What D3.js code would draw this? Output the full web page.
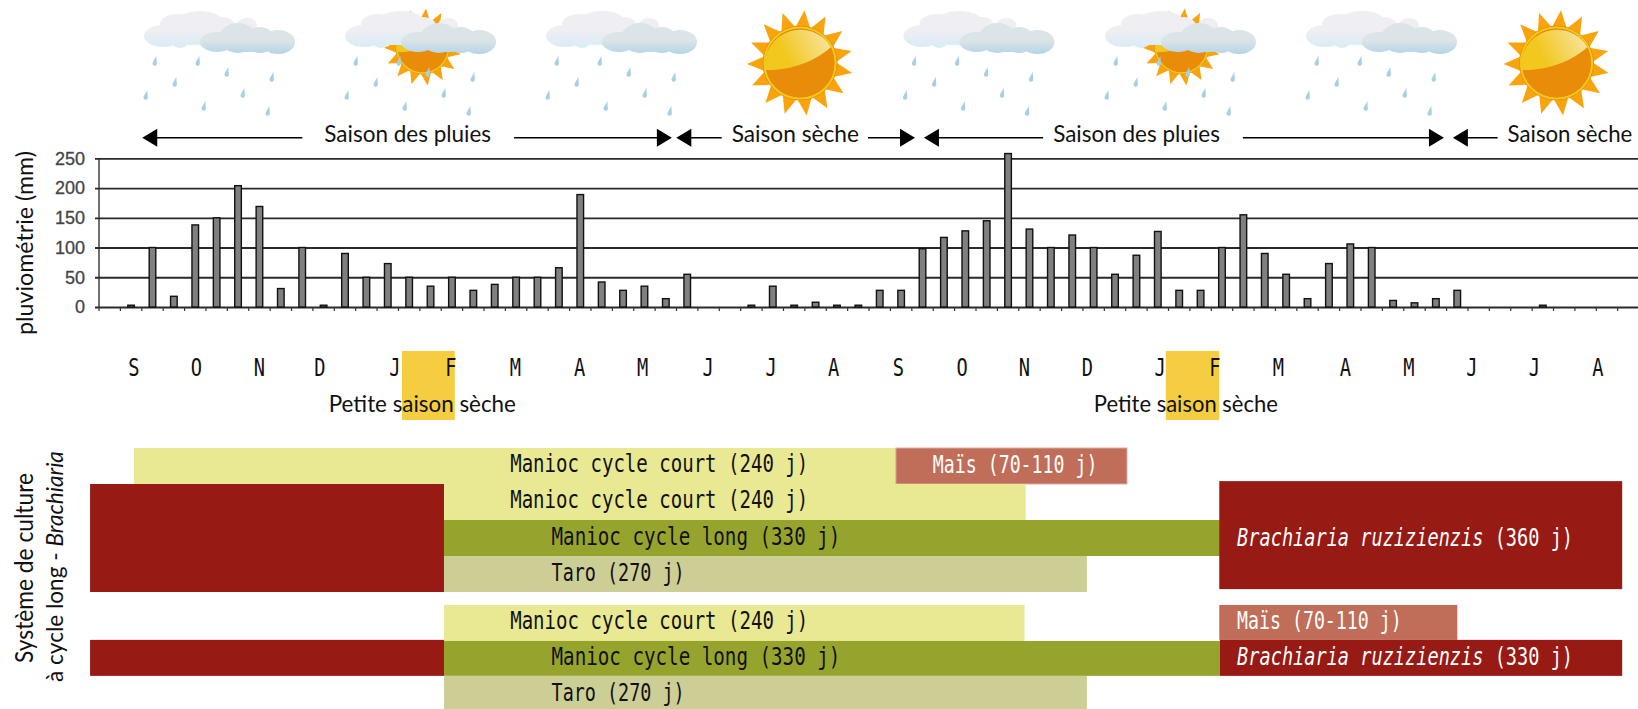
<!DOCTYPE html>
<html>
<head>
<meta charset="utf-8">
<script src="https://cdn.jsdelivr.net/npm/d3@7"></script>
<style>
    html, body { margin: 0; padding: 0; background: #fff; overflow: hidden; }
    svg { display: block; }
    .prop { font-family: Lato, "Open Sans", sans-serif; fill: #111; }
    .mono { font-family: "DejaVu Sans Mono", monospace; font-size: 24px; }
</style>
</head>
<body>
<div id="chart"></div>
<script>
// rainfall per 10-day period (mm)
const rain = [0, 3, 100, 18, 138, 150, 204, 169, 31, 100, 3, 90, 50, 73, 50, 35, 50, 28, 38, 50, 50, 66, 189, 42, 28, 35, 14, 55,
    0, 0, 3, 35, 3, 8, 3, 3, 28, 28, 98, 117, 128, 145, 258, 131, 100, 121, 100, 55, 87, 127, 28, 28, 100, 155, 90, 55, 14, 73, 106, 100, 11, 7, 14, 28,
    0, 0, 0, 3, 0, 0, 0, 0];
const yTicks = [0, 50, 100, 150, 200, 250];

const monthLabels = ["S", "O", "N", "D", "J", "F", "M", "A", "M", "J", "J", "A", "S", "O", "N", "D", "J", "F", "M", "A", "M", "J", "J", "A"];
const monthAt = [0, 0.98, 1.97, 2.92, 4.1, 4.98, 5.99, 7, 7.99, 9.02, 10.01, 10.99, 12.01, 13.01, 13.99, 14.98, 16.12, 16.98, 17.98, 19.03, 20.03, 21.02, 22, 23];

// seasons, in months from the first S
const seasonLabels = ["Saison des pluies", "Saison sèche", "Saison des pluies", "Saison sèche"];
const seasonStart = [0.13, 8.52, 12.41, 20.72];
const seasonEnd = [8.45, 12.27, 20.58, null];
const seasonLabelStart = [2.99, 9.39, 14.44, 21.58];
const seasonLabelEnd = [5.61, 11.39, 17.06, 23.54];

const dryStart = [4.21, 16.21];
const dryEnd = [5.04, 17.05];
const dryLabelAt = [3.06, 15.08];
const dryLabelEnd = [6.0, 17.97];

// crop blocks: months for x, row numbers for y
const blockKinds = ["court", "mais", "bra", "court", "long", "taro", "bra", "court", "mais", "bra", "long", "bra", "taro"];
const blockStart = [0, 11.97, -0.69, 4.87, 4.87, 4.87, 17.05, 4.87, 17.05, -0.69, 4.87, 17.06, 4.87];
const blockEnd = [11.97, 15.6, 4.87, 14.01, 17.06, 14.97, 23.38, 13.99, 20.79, 4.87, 17.06, 23.38, 14.97];
const blockTop = [0, 0, 1, 1, 2, 3, 0.92, 4.36, 4.36, 5.33, 5.36, 5.33, 6.33];
const blockBottom = [1, 1, 4, 2, 3, 4, 3.92, 5.36, 5.33, 6.33, 6.33, 6.33, 7.25];

const labelText = ["Manioc cycle court (240 j)", "Maïs (70-110 j)", "Manioc cycle court (240 j)", "Manioc cycle long (330 j)", "Taro (270 j)",
    "(360 j)", "Manioc cycle court (240 j)", "Maïs (70-110 j)", "Manioc cycle long (330 j)", "(330 j)", "Taro (270 j)"];
const labelItalic = ["", "", "", "", "", "Brachiaria ruzizienzis ", "", "", "", "Brachiaria ruzizienzis ", ""];
const labelAt = [5.91, 12.55, 5.91, 6.56, 6.56, 17.33, 5.91, 17.33, 6.56, 17.33, 6.56];
const labelRow = [0.66, 0.69, 1.66, 2.69, 3.69, 2.72, 5.03, 5.03, 6.03, 6.03, 7.02];
const labelKinds = ["court", "mais", "court", "long", "taro", "bra", "court", "mais", "long", "bra", "taro"];

const kindColor = { court: "#e8e992", long: "#96a42e", taro: "#ccce96", bra: "#971a14", mais: "#c06e59" };
// horizontal squeeze of the mono font, it is too wide otherwise
const kindSqueeze = { court: 0.794, long: 0.8, taro: 0.768, bra: 0.775, mais: 0.76 };

const width = 1638, height = 709;

const svg = d3.select("#chart").append("svg")
    .attr("width", width)
    .attr("height", height);

// scales
const xMonth = d3.scaleLinear().domain([0, 23]).range([134, 1598]);
const yRow = d3.scaleLinear().domain([0, 1]).range([448, 484]);
const xBar = d3.scaleBand().domain(rain.map((d, i) => i)).range([99, 99 + 21.39 * rain.length]);
const yRain = d3.scaleLinear().domain([0, 250]).range([307, 158.3]);

// ---- weather icons ----
const defs = svg.append("defs");
function gradient(id, top, bottom, y1, y2) {
    const g = defs.append("linearGradient").attr("id", id)
        .attr("gradientUnits", "userSpaceOnUse")
        .attr("x1", 0).attr("y1", y1).attr("x2", 0).attr("y2", y2);
    g.append("stop").attr("offset", "55%").attr("stop-color", top);
    g.append("stop").attr("offset", "100%").attr("stop-color", bottom);
}
gradient("cloudBack", "#efeef3", "#d9ecf5", 11, 47);
gradient("cloudFront", "#dbe4e7", "#b3d4e8", 25, 54);
const disc = defs.append("linearGradient").attr("id", "sunShine").attr("x1", 0).attr("y1", 0.5).attr("x2", 1).attr("y2", 0.2);
disc.append("stop").attr("offset", "25%").attr("stop-color", "#f2c81e");
disc.append("stop").attr("offset", "100%").attr("stop-color", "#f8e4a4");

function drawSun(cx, cy, k) {
    const g = svg.append("g").attr("transform", `translate(${cx},${cy}) scale(${k})`);
    const n = 15;
    const pts = d3.range(n * 2).map(i => {
        const a = (i + 0.4) * Math.PI / n;
        const r = i % 2 === 0 ? 53 : 36;
        return [r * Math.sin(a), -r * Math.cos(a)];
    });
    g.append("polygon").attr("points", pts.join(" ")).attr("fill", "#f9a30e");
    g.append("circle").attr("r", 37).attr("fill", "#f2c81e").attr("stroke", "#e8920a").attr("stroke-width", 1);
    g.append("circle").attr("r", 35).attr("fill", "#e88c0a");
    g.append("path")
        .attr("d", "M-35,7 A35.7,35.7 0 0 1 31,-16 C16,-2 -10,8 -35,7 Z")
        .attr("fill", "url(#sunShine)");
    g.append("circle").attr("r", 35.5).attr("fill", "none").attr("stroke", "#f2c81e").attr("stroke-width", 1.6);
}

const backCloud = [[63, 36, 19, 11], [77, 24, 17, 10], [100, 22, 23, 11], [123, 26, 12, 9], [147, 25, 10, 7], [80, 42, 8, 6], [110, 36, 25, 10], [92, 35, 42, 10], [135, 32, 22, 8]];
const frontCloud = [[117, 42, 17, 10], [138, 38, 19, 15], [160, 40, 15, 13], [178, 42, 17, 12], [148, 43, 30, 9]];
const drops = [[55, 62], [98, 62], [127, 73], [172, 78], [75, 83], [46, 96], [143, 94], [104, 107], [168, 112]];

function drawCloud(dx) {
    const g = svg.append("g").attr("transform", `translate(${dx},0)`);
    g.append("g").selectAll("path").data(drops).join("path")
        .attr("d", "M0,-6.5 C0.8,-2.5 2.3,0 2.2,2 A2.3,2.6 0 0 1 -2.2,2 C-2.3,0 -0.8,-2.5 0,-6.5 Z")
        .attr("transform", d => `translate(${d[0] + 100},${d[1]}) rotate(12)`)
        .attr("fill", "#a7d0e5");
    // the cloud shapes are unions of ellipses, gradient in user space so it runs over the whole cloud
    g.append("g").selectAll("ellipse").data(backCloud).join("ellipse")
        .attr("cx", d => d[0] + 100).attr("cy", d => d[1]).attr("rx", d => d[2]).attr("ry", d => d[3])
        .attr("fill", "url(#cloudBack)");
    g.append("g").selectAll("ellipse").data(frontCloud).join("ellipse")
        .attr("cx", d => d[0] + 100).attr("cy", d => d[1]).attr("rx", d => d[2]).attr("ry", d => d[3])
        .attr("fill", "url(#cloudFront)");
}

drawSun(422.7, 47, 0.73);
drawSun(1181.5, 47, 0.73);
drawSun(800, 63, 1);
drawSun(1556.5, 63, 1);
[0, 201, 402, 759.4, 961, 1162].forEach(drawCloud);

// ---- season arrows ----
const arrowY = 137.7;
function arrowHead(x, dir) {
    svg.append("polygon")
        .attr("points", [[x, arrowY], [x + dir * 15, arrowY - 9], [x + dir * 15, arrowY + 9]].join(" "))
        .attr("fill", "#000");
}
seasonLabels.forEach((s, i) => {
    const x0 = xMonth(seasonStart[i]);
    const labelX0 = xMonth(seasonLabelStart[i]);
    const labelX1 = xMonth(seasonLabelEnd[i]);
    const gap = i === 0 ? 22 : 10;
    svg.append("line").attr("x1", x0 + 10).attr("x2", labelX0 - gap)
        .attr("y1", arrowY).attr("y2", arrowY).attr("stroke", "#000").attr("stroke-width", 1.6);
    arrowHead(x0, 1);
    if (seasonEnd[i] !== null) {
        const x1 = xMonth(seasonEnd[i]);
        svg.append("line").attr("x1", labelX1 + (i === 1 ? 9 : 23)).attr("x2", x1 - 10)
            .attr("y1", arrowY).attr("y2", arrowY).attr("stroke", "#000").attr("stroke-width", 1.6);
        arrowHead(x1, -1);
    }
    const label = svg.append("text").attr("class", "prop")
        .attr("font-size", 24)
        .text(s);
    // squeeze to the measured width
    const k = (labelX1 - labelX0) / label.node().getComputedTextLength();
    label.attr("transform", `translate(${labelX0},141.5) scale(${k},1)`);
});

// ---- rainfall chart ----
svg.append("g")
    .attr("transform", "translate(99,0)")
    .call(d3.axisLeft(yRain).tickValues(yTicks).tickSize(-(width - 99)).tickPadding(14))
    .call(g => {
        g.selectAll(".tick line").attr("stroke", "#2a2a2a").attr("stroke-width", 1.8).attr("x1", -4);
        g.selectAll(".tick text")
            .attr("fill", "#444")
            .attr("stroke", "#444")
            .attr("stroke-width", 0.3)
            .attr("font-family", "'Liberation Sans', Arial, sans-serif")
            .attr("font-size", 18);
        g.select(".domain").attr("stroke", "#333").attr("stroke-width", 1.4).attr("d", `M0,${yRain(250)}V${yRain(0)}`);
    });

svg.append("g").selectAll("line")
    .data(d3.range(rain.length + 1))
    .join("line")
    .attr("x1", i => 99 + i * xBar.step())
    .attr("x2", i => 99 + i * xBar.step())
    .attr("y1", yRain(0))
    .attr("y2", yRain(0) + 4)
    .attr("stroke", "#333")
    .attr("stroke-width", 1.2);

svg.append("g").selectAll("rect")
    .data(rain.map((v, i) => ({ v: v, i: i })).filter(d => d.v > 0))
    .join("rect")
    .attr("x", d => xBar(d.i) + xBar.bandwidth() / 2 - 3.3)
    .attr("width", 6.6)
    .attr("y", d => yRain(d.v))
    .attr("height", d => yRain(0) - yRain(d.v))
    .attr("fill", "#808080")
    .attr("stroke", "#111")
    .attr("stroke-width", 1.4);

svg.append("text").attr("class", "prop")
    .attr("transform", "translate(33,335) rotate(-90)")
    .attr("font-size", 24)
    .attr("textLength", 184)
    .attr("lengthAdjust", "spacingAndGlyphs")
    .text("pluviométrie (mm)");

// ---- months and the short dry season ----
svg.append("g").selectAll("rect")
    .data(dryStart)
    .join("rect")
    .attr("x", d => xMonth(d))
    .attr("width", (d, i) => xMonth(dryEnd[i]) - xMonth(d))
    .attr("y", 351)
    .attr("height", 69)
    .attr("fill", "#f4ce40");

svg.append("g").selectAll("text")
    .data(monthLabels)
    .join("text")
    .attr("class", "mono")
    .attr("transform", (d, i) => `translate(${xMonth(monthAt[i])},376) scale(0.78,1)`)
    .attr("text-anchor", "middle")
    .attr("fill", "#111")
    .text(d => d);

svg.append("g").selectAll("text")
    .data(dryLabelAt)
    .join("text")
    .attr("class", "prop")
    .attr("x", d => xMonth(d))
    .attr("y", 412)
    .attr("font-size", 24)
    .attr("textLength", (d, i) => xMonth(dryLabelEnd[i]) - xMonth(d))
    .attr("lengthAdjust", "spacingAndGlyphs")
    .text("Petite saison sèche");

// ---- crop blocks ----
svg.append("g").selectAll("rect")
    .data(blockKinds)
    .join("rect")
    .attr("x", (d, i) => xMonth(blockStart[i]))
    .attr("width", (d, i) => xMonth(blockEnd[i]) - xMonth(blockStart[i]))
    .attr("y", (d, i) => yRow(blockTop[i]))
    .attr("height", (d, i) => yRow(blockBottom[i]) - yRow(blockTop[i]))
    .attr("fill", d => kindColor[d])
    .attr("stroke", (d, i) => i === 1 ? "#dcaa9c" : "none");

const labels = svg.append("g").selectAll("text")
    .data(labelText)
    .join("text")
    .attr("class", "mono")
    .attr("transform", (d, i) => `translate(${xMonth(labelAt[i])},${yRow(labelRow[i])}) scale(${kindSqueeze[labelKinds[i]]},1)`)
    .attr("fill", (d, i) => labelKinds[i] === "mais" || labelKinds[i] === "bra" ? "#fff" : "#111");
labels.append("tspan")
    .attr("font-style", "italic")
    .text((d, i) => labelItalic[i]);
labels.append("tspan")
    .text(d => d);

// ---- system title ----
svg.append("text").attr("class", "prop")
    .attr("transform", "translate(32.5,663) rotate(-90)")
    .attr("font-size", 25)
    .attr("textLength", 190)
    .attr("lengthAdjust", "spacingAndGlyphs")
    .text("Système de culture");
const title2 = svg.append("text").attr("class", "prop")
    .attr("transform", "translate(63,682) rotate(-90)")
    .attr("font-size", 22.6);
title2.append("tspan").text("à cycle long - ");
title2.append("tspan").attr("font-style", "italic").text("Brachiaria");
</script>
</body>
</html>
